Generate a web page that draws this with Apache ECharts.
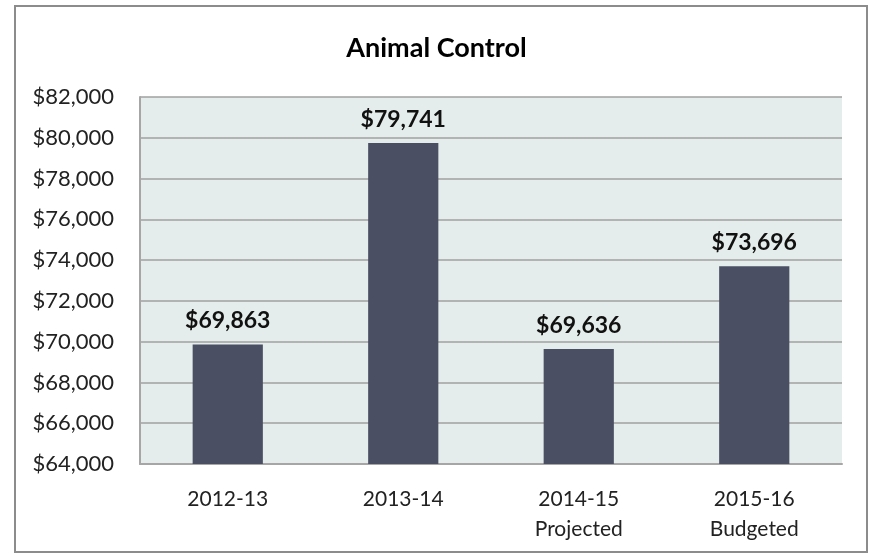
<!DOCTYPE html>
<html><head><meta charset="utf-8">
<script src="https://cdn.jsdelivr.net/npm/echarts@6/dist/echarts.min.js"></script>
<style>html,body{margin:0;padding:0;background:#fff}#c{width:873px;height:557px}</style>
</head><body><div id="c"></div>
<script>
const categories = ['2012-13', '2013-14', '2014-15\nProjected', '2015-16\nBudgeted'];
const values = [69863, 79741, 69636, 73696];
const yMin = 64000, yMax = 82000, yStep = 2000;
const titleText = 'Animal Control';
const FONT = 'Lato, "Open Sans", sans-serif';
const fmt = v => '$' + v.toLocaleString('en-US');
const chart = echarts.init(document.getElementById('c'), null, {renderer: 'canvas'});
chart.setOption({
  animation: false,
  backgroundColor: '#fff',
  graphic: [{type: 'rect', shape: {x: 15, y: 6, width: 852, height: 546}, style: {fill: 'none', stroke: '#8c8c8c', lineWidth: 2}, z: -1}],
  title: {text: titleText, left: 'center', top: 30, textStyle: {fontFamily: FONT, fontSize: 27, fontWeight: 'bold', color: '#000'}},
  grid: {left: 140, right: 31, top: 97, bottom: 93, show: true, backgroundColor: '#e4edeb', borderWidth: 0},
  xAxis: {type: 'category', data: categories,
    axisLine: {lineStyle: {color: '#a6a6a6', width: 2}}, axisTick: {show: false},
    axisLabel: {fontFamily: FONT, fontSize: 21, color: '#222', margin: 20, lineHeight: 30}},
  yAxis: {type: 'value', min: yMin, max: yMax, interval: yStep,
    axisLine: {show: true, lineStyle: {color: '#a6a6a6', width: 2}}, axisTick: {show: false},
    splitLine: {lineStyle: {color: '#a0a0a0', width: 1.5}},
    axisLabel: {fontFamily: FONT, fontSize: 22, color: '#222', margin: 26, formatter: fmt}},
  series: [{type: 'bar', data: values, barWidth: '40%', itemStyle: {color: '#4a4f63'},
    label: {show: true, position: 'top', distance: 12, formatter: p => fmt(p.value), fontFamily: FONT, fontSize: 23, fontWeight: 'bold', color: '#111'}}]
});
</script></body></html>
